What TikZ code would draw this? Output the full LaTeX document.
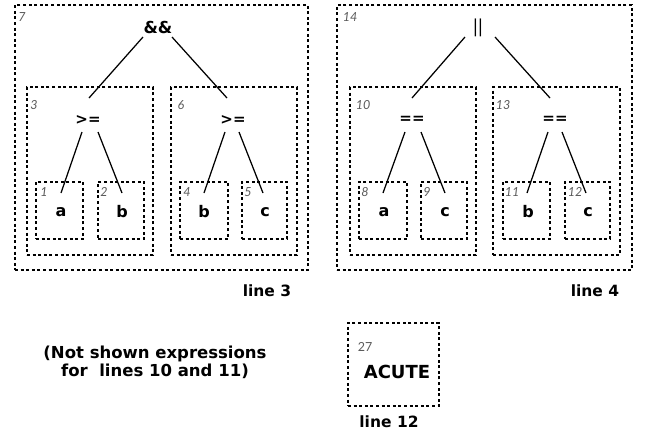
\documentclass[tikz,border=0pt]{standalone}
\usepackage{fontspec}
\setmainfont{Lato}
\newfontfamily\heavy{DejaVu Sans}
\usetikzlibrary{fit}
\definecolor{numgray}{HTML}{5A5A5A}
\tikzset{
  dbox/.style={draw, line width=1.3pt, dash pattern=on 3pt off 2.6pt, inner sep=0pt},
  optext/.style={font=\fontsize{15}{17}\heavy\bfseries, inner sep=0pt},
  leaftext/.style={font=\fontsize{16}{19}\heavy\bfseries, inner sep=0pt},
  numtext/.style={font=\fontsize{12.5}{14}\selectfont\itshape, text=numgray, inner sep=0pt},
  captext/.style={font=\fontsize{15.5}{18}\heavy\bfseries, inner sep=0pt, align=center},
  edge/.style={line width=1.25pt}
}
\begin{document}
\begin{tikzpicture}[x=1pt,y=-1pt]
\useasboundingbox (0,0) rectangle (649,437);
% ---------- left tree (line 3)
\node[dbox, fit={(15,5) (308,270)}] (b7) {};
\node[dbox, fit={(27,87) (153,255)}] (b3) {};
\node[dbox, fit={(171,87) (297,255)}] (b6) {};
\node[dbox, fit={(36,182) (83,239)}] (b1) {};
\node[dbox, fit={(98,182) (144,239)}] (b2) {};
\node[dbox, fit={(180,182) (228,239)}] (b4) {};
\node[dbox, fit={(242,182) (287,239)}] (b5) {};
\node[numtext] (n7) at (22,17) {7};
\node[numtext] (n3) at (34,105) {3};
\node[numtext] (n6) at (181,105) {6};
\node[numtext] (n1) at (44,192) {1};
\node[numtext] (n2) at (104,192) {2};
\node[numtext] (n4) at (187,192) {4};
\node[numtext] (n5) at (248,192) {5};
\node[optext, font=\fontsize{16.5}{19}\heavy\bfseries] (and) at (158,27) {\&\&};
\node[optext] (geA) at (88,120) {>=};
\node[optext] (geB) at (233,120) {>=};
\node[leaftext] (la) at (61,212) {a};
\node[leaftext] (lb) at (122,212) {b};
\node[leaftext] (lb2) at (204,212) {b};
\node[leaftext] (lc) at (265,212) {c};
\coordinate (andL) at (143,37); \coordinate (andR) at (172,37);
\coordinate (geAt) at (89,98); \coordinate (geBt) at (227,98);
\coordinate (geAL) at (82,132); \coordinate (geAR) at (98,132);
\coordinate (geBL) at (225,132); \coordinate (geBR) at (239,132);
\coordinate (lat) at (61,193); \coordinate (lbt) at (122,193);
\coordinate (lb2t) at (204,193); \coordinate (lct) at (263,193);
\draw[edge] (andL) -- (geAt);
\draw[edge] (andR) -- (geBt);
\draw[edge] (geAL) -- (lat);
\draw[edge] (geAR) -- (lbt);
\draw[edge] (geBL) -- (lb2t);
\draw[edge] (geBR) -- (lct);
\node[captext] (cap3) at (267,291) {line 3};
% ---------- right tree (line 4)
\node[dbox, fit={(337,5) (632,270)}] (b14) {};
\node[dbox, fit={(350,87) (476,255)}] (b10) {};
\node[dbox, fit={(493,87) (620,255)}] (b13) {};
\node[dbox, fit={(359,182) (407,239)}] (b8) {};
\node[dbox, fit={(421,182) (467,239)}] (b9) {};
\node[dbox, fit={(503,182) (550,239)}] (b11) {};
\node[dbox, fit={(565,182) (610,239)}] (b12) {};
\node[numtext] (n14) at (350,17) {14};
\node[numtext] (n10) at (363,105) {10};
\node[numtext] (n13) at (503,105) {13};
\node[numtext] (n8) at (365,192) {8};
\node[numtext] (n9) at (427,192) {9};
\node[numtext] (n11) at (512,192) {11};
\node[numtext] (n12) at (575,192) {12};
\node[font=\fontsize{19}{22}\selectfont, inner sep=0pt] (or) at (478,28) {||};
\node[optext] (eqA) at (412,120) {==};
\node[optext] (eqB) at (555,120) {==};
\node[leaftext] (ra) at (384,212) {a};
\node[leaftext] (rc) at (445,212) {c};
\node[leaftext] (rb) at (528,212) {b};
\node[leaftext] (rc2) at (588,212) {c};
\coordinate (orL) at (465,37); \coordinate (orR) at (495,37);
\coordinate (eqAt) at (412,98); \coordinate (eqBt) at (550,98);
\coordinate (eqAL) at (405,132); \coordinate (eqAR) at (421,132);
\coordinate (eqBL) at (548,132); \coordinate (eqBR) at (562,132);
\coordinate (rat) at (383,193); \coordinate (rct) at (445,193);
\coordinate (rbt) at (527,193); \coordinate (rc2t) at (586,193);
\draw[edge] (orL) -- (eqAt);
\draw[edge] (orR) -- (eqBt);
\draw[edge] (eqAL) -- (rat);
\draw[edge] (eqAR) -- (rct);
\draw[edge] (eqBL) -- (rbt);
\draw[edge] (eqBR) -- (rc2t);
\node[captext] (cap4) at (595,291) {line 4};
% ---------- bottom
\node[captext, font=\fontsize{16.5}{18}\heavy\bfseries] (note) at (155,362) {(Not shown expressions\\for\ \ lines 10 and 11)};
\node[dbox, fit={(348,323) (439,406)}] (b27) {};
\node[numtext, font=\fontsize{12.5}{14}\selectfont\upshape] (n27) at (365,347) {27};
\node[leaftext, font=\fontsize{18}{20}\heavy\bfseries] (acute) at (397,372) {ACUTE};
\node[captext] (cap12) at (389,422) {line 12};
\end{tikzpicture}
\end{document}
